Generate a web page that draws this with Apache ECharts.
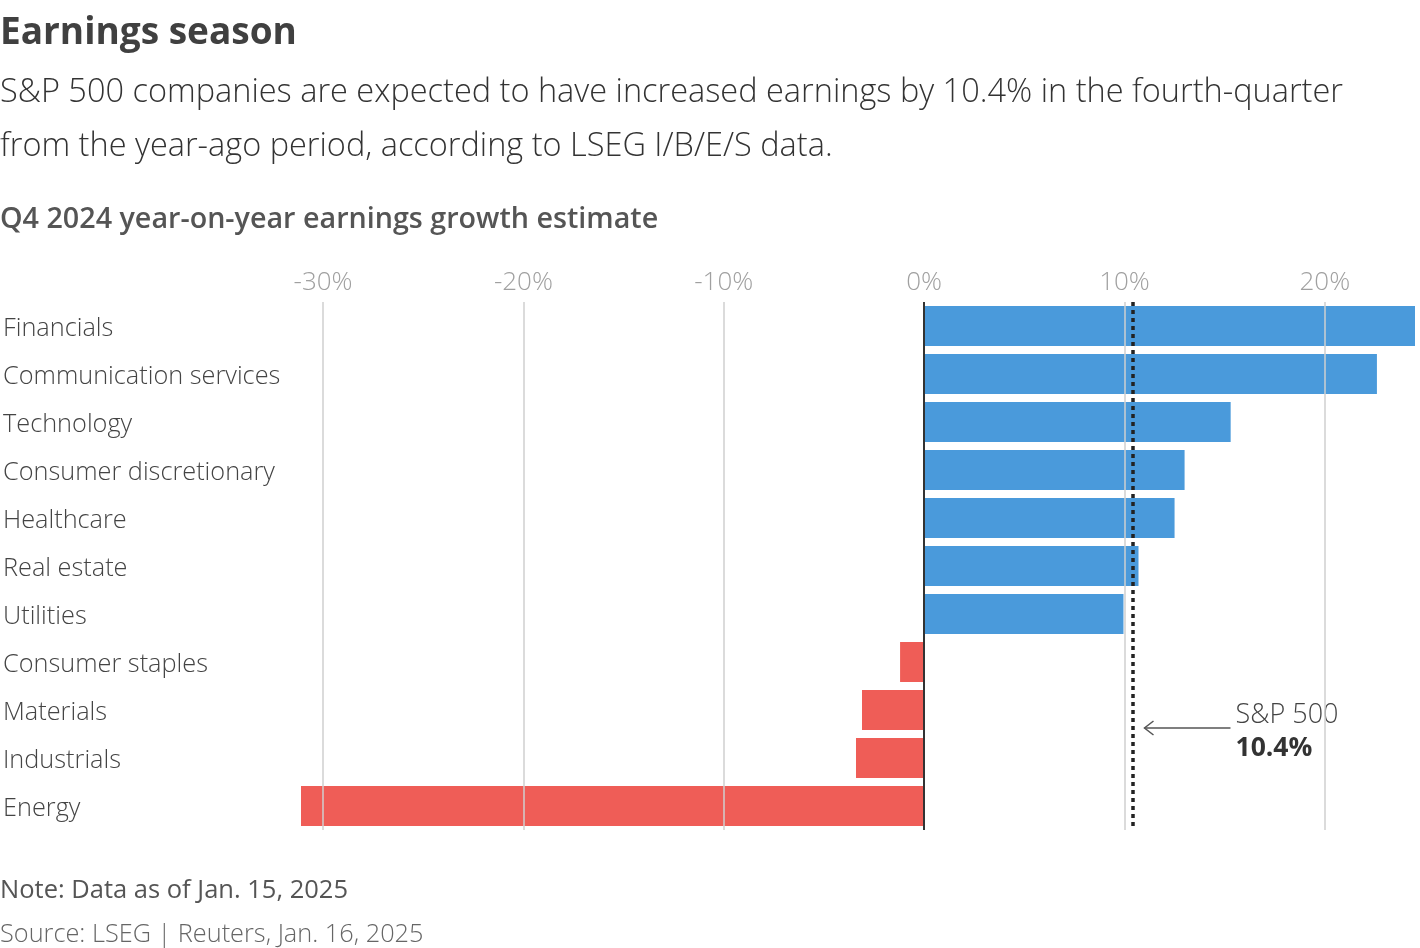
<!DOCTYPE html>
<html><head><meta charset="utf-8">
<script src="https://cdn.jsdelivr.net/npm/echarts@6/dist/echarts.min.js"></script>
<style>html,body{margin:0;padding:0;background:#fff}#c{width:1420px;height:948px}</style>
</head><body><div id="c"></div>
<script>
const categories = ["Financials","Communication services","Technology","Consumer discretionary","Healthcare","Real estate","Utilities","Consumer staples","Materials","Industrials","Energy"];
const values = [24.5, 22.6, 15.3, 13.0, 12.5, 10.7, 9.95, -1.2, -3.1, -3.4, -31.1];
const tickValues = [-30, -20, -10, 0, 10, 20];
const spx = 10.4;

const FONT = '"Open Sans", sans-serif';
const chart = echarts.init(document.getElementById('c'), null, {renderer: 'canvas'});

const gridLines = tickValues.filter(v => v !== 0).map(v => ({xAxis: v}));

const option = {
  animation: false,
  backgroundColor: '#fff',
  grid: {left: 298, right: 0, top: 302, height: 528, containLabel: false},
  xAxis: {
    type: 'value', position: 'top', min: -31.2, max: 24.6,
    splitLine: {show: false}, axisLine: {show: false}, axisTick: {show: false},
    axisLabel: {
      margin: 6, fontFamily: FONT, fontSize: 26, fontWeight: 300, color: '#a0a0a0',
      formatter: v => (Math.abs(v % 10) < 1e-9 ? v + '%' : '')
    }
  },
  yAxis: {
    type: 'category', inverse: true, data: categories,
    axisLine: {show: false}, axisTick: {show: false}, splitLine: {show: false},
    axisLabel: {
      align: 'left', margin: 296,
      formatter: v => '{c|' + v + '}',
      rich: {c: {fontFamily: FONT, fontSize: 25.3, fontWeight: 300, color: '#444', padding: [6, 0, 0, 0]}}
    }
  },
  series: [{
    type: 'bar', data: values, barWidth: 40,
    itemStyle: {color: p => p.value >= 0 ? '#4A9ADB' : '#EF5D57'},
    markLine: {
      silent: true, symbol: 'none', label: {show: false},
      data: [
        ...gridLines.map(d => ({...d, lineStyle: {color: '#cfcfcf', width: 1.5, type: 'solid'}})),
        {xAxis: 0, lineStyle: {color: '#333', width: 2, type: 'solid'}},
        {xAxis: spx, lineStyle: {color: '#222', width: 3.5, type: [4, 4]}}
      ]
    },
    z: 2
  }],
  graphic: []
};
chart.setOption(option);

// annotation anchored to the S&P value
const p = chart.convertToPixel({xAxisIndex: 0, yAxisIndex: 0}, [spx, categories[8]]);
const ax = p[0] + 12, ay = p[1] + 18;
chart.setOption({graphic: [
  {type: 'text', left: 0, top: 15, style: {text: 'Earnings season', font: 'bold 37px ' + FONT, fill: '#404040'}},
  {type: 'text', left: 0, top: 66, style: {text: 'S&P 500 companies are expected to have increased earnings by 10.4% in the fourth-quarter\nfrom the year-ago period, according to LSEG I/B/E/S data.', font: '300 32.5px ' + FONT, fill: '#333', lineHeight: 54}},
  {type: 'text', left: 0, top: 205, style: {text: 'Q4 2024 year-on-year earnings growth estimate', font: '600 28.7px ' + FONT, fill: '#555'}},
  {type: 'text', left: 0, top: 878, style: {text: 'Note: Data as of Jan. 15, 2025', font: '400 25.5px ' + FONT, fill: '#555'}},
  {type: 'text', left: 0, top: 922, style: {text: 'Source: LSEG | Reuters, Jan. 16, 2025', font: '300 25.3px ' + FONT, fill: '#666'}},
  {type: 'line', shape: {x1: ax, y1: ay, x2: ax + 86, y2: ay}, style: {stroke: '#555', lineWidth: 1.5}},
  {type: 'polyline', shape: {points: [[ax + 9, ay - 7], [ax, ay], [ax + 9, ay + 7]]}, style: {stroke: '#555', lineWidth: 1.5, fill: null}},
  {type: 'text', x: ax + 91, y: ay - 26, style: {text: 'S&P 500', font: '300 27px ' + FONT, fill: '#444'}},
  {type: 'text', x: ax + 91, y: ay + 7, style: {text: '10.4%', font: 'bold 26.5px ' + FONT, fill: '#333'}}
]});
</script></body></html>
